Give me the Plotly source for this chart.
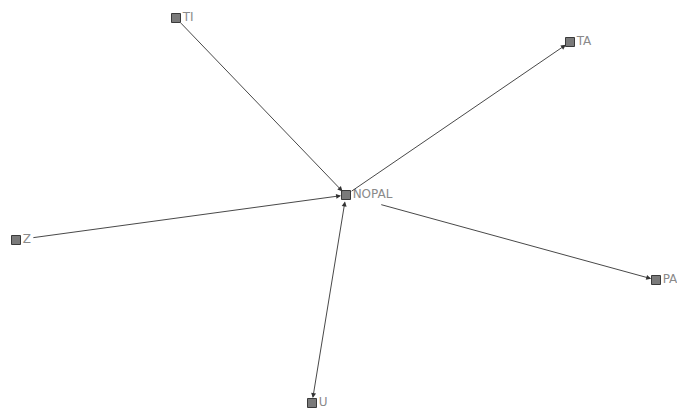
import plotly.graph_objects as go

# node positions (pixel-ish layout coords)
nodes = ["TI", "TA", "NOPAL", "Z", "PA", "U"]
node_x = [176, 570, 346, 16, 656, 312]
node_y = [18, 42, 195, 240, 280, 403]

# directed edges (source -> target), both flag = arrow at each end
edge_src = ["NOPAL", "TI", "Z", "NOPAL", "NOPAL"]
edge_dst = ["TA", "NOPAL", "NOPAL", "PA", "U"]
edge_both = [False, False, False, False, True]

pos = {n: (x, y) for n, x, y in zip(nodes, node_x, node_y)}

fig = go.Figure()

annotations = []
for s, t, both in zip(edge_src, edge_dst, edge_both):
    x0, y0 = pos[s]
    x1, y1 = pos[t]
    # some edges leave a gap after the source's label
    start_gap = {"PA": 35}.get(t, 16 if s == "Z" else 5)
    annotations.append(dict(
        x=x1, y=y1, ax=x0, ay=y0,
        xref="x", yref="y", axref="x", ayref="y",
        text="", showarrow=True,
        arrowhead=2, arrowsize=1.1, arrowwidth=0.9,
        arrowcolor="#333333",
        arrowside="end+start" if both else "end",
        standoff=5, startstandoff=start_gap,
    ))

fig.add_trace(go.Scatter(
    x=node_x, y=node_y, mode="markers+text",
    text=nodes, textposition="middle right",
    textfont=dict(family="DejaVu Sans", size=12, color="#8a8a8a"),
    marker=dict(symbol="square", size=9, color="#7a7a7a",
                line=dict(color="#3a3a3a", width=1)),
    hoverinfo="text", showlegend=False, cliponaxis=False,
))

fig.update_layout(
    width=677, height=408,
    margin=dict(l=0, r=0, t=0, b=0),
    paper_bgcolor="white", plot_bgcolor="white",
    xaxis=dict(range=[0, 677], visible=False, fixedrange=True),
    yaxis=dict(range=[408, 0], visible=False, fixedrange=True),
    annotations=annotations,
)

# drop the default body margin so the figure sits at the window's corner
fig.write_html("out.html", config={"displayModeBar": False},
               post_script="document.body.style.margin='0';")
